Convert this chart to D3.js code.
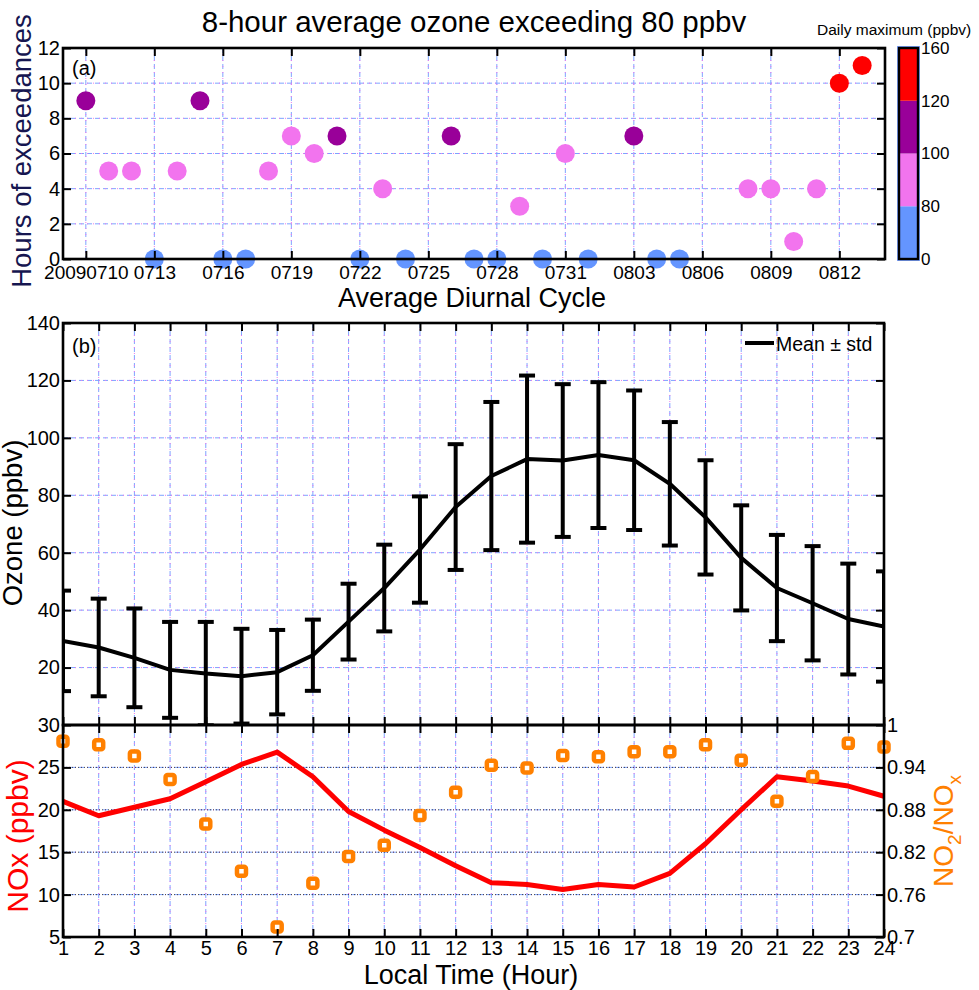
<!DOCTYPE html>
<html lang="en">
<head>
<meta charset="UTF-8">
<title>Ozone exceedances and diurnal cycle</title>
<script src="https://d3js.org/d3.v7.min.js"></script>
<style>
  body { margin: 0; background: #fff; }
  svg { font-family: "Liberation Sans", Arial, sans-serif; }
  .axis text { font-size: 19px; fill: #000; }
  .axis.big text { font-size: 20px; }
  .axis line { stroke: #000; stroke-width: 2; }
  .axis .domain { display: none; }
</style>
</head>
<body>
<svg width="979" height="990"></svg>
<script>
// ---- panel (a): hours of 8-h ozone > 80 ppbv per day
const exDates = ["2009-07-10", "2009-07-11", "2009-07-12", "2009-07-13", "2009-07-14", "2009-07-15",
  "2009-07-16", "2009-07-17", "2009-07-18", "2009-07-19", "2009-07-20", "2009-07-21", "2009-07-22",
  "2009-07-23", "2009-07-24", "2009-07-26", "2009-07-27", "2009-07-28", "2009-07-29", "2009-07-30",
  "2009-07-31", "2009-08-01", "2009-08-03", "2009-08-04", "2009-08-05", "2009-08-08", "2009-08-09",
  "2009-08-10", "2009-08-11", "2009-08-12", "2009-08-13"];
const exHours = [9, 5, 5, 0, 5, 9, 0, 0, 5, 7, 6, 7, 0, 4, 0, 7, 0, 0, 3, 0, 6, 0, 7, 0, 0, 4, 4, 1, 4, 10, 11];
// lower edge of the daily-maximum class (ppbv)
const exMaxClass = [100, 80, 80, 0, 80, 100, 0, 0, 80, 80, 80, 100, 0, 80, 0, 100, 0, 0, 80, 0, 80, 0, 100, 0, 0, 80, 80, 80, 80, 120, 120];
const dateTicks = ["2009-07-10", "2009-07-13", "2009-07-16", "2009-07-19", "2009-07-22", "2009-07-25",
  "2009-07-28", "2009-07-31", "2009-08-03", "2009-08-06", "2009-08-09", "2009-08-12"];
const classEdges = [0, 80, 100, 120, 160];
const classColors = ["#6495ff", "#f274ee", "#990099", "#ff0000"];

// ---- panel (b): average diurnal ozone
const hours = [1, 2, 3, 4, 5, 6, 7, 8, 9, 10, 11, 12, 13, 14, 15, 16, 17, 18, 19, 20, 21, 22, 23, 24];
const ozoneMean = [29.3, 27.0, 23.4, 19.2, 17.9, 17.0, 18.4, 24.3, 36.0, 47.7, 61.1, 75.9,
  86.7, 92.6, 92.1, 94.0, 92.2, 84.0, 72.3, 58.2, 47.7, 42.4, 36.9, 34.3];
const ozoneStd = [17.5, 17.0, 17.2, 16.7, 18.0, 16.5, 14.7, 12.4, 13.2, 15.1, 18.5, 21.9,
  25.8, 29.1, 26.6, 25.4, 24.3, 21.5, 19.9, 18.3, 18.5, 19.9, 19.3, 19.2];

// ---- panel (c): NOx and NO2/NOx
const noxMean = [21.0, 19.3, 20.3, 21.3, 23.3, 25.35, 26.8, 23.9, 19.8, 17.6, 15.55, 13.4,
  11.4, 11.2, 10.6, 11.2, 10.9, 12.5, 16.0, 20.0, 23.9, 23.4, 22.8, 21.6];
const no2Ratio = [0.977, 0.972, 0.956, 0.923, 0.860, 0.793, 0.714, 0.776, 0.814, 0.830, 0.872, 0.905,
  0.943, 0.939, 0.957, 0.955, 0.962, 0.962, 0.972, 0.950, 0.892, 0.927, 0.974, 0.969];

const svg = d3.select("svg");
const parse = d3.timeParse("%Y-%m-%d");

const L = 63, R = 884;
const aTop = 48, aBot = 259;
const bTop = 323, bBot = 725, cBot = 937;

function grid(g, lines, dark) {
  const sel = g.append("g");
  [["#7ea4ff", "5,3", 0], ["#ee77ee", "1,5", 6]].forEach(([c, dash, off]) => {
    sel.selectAll(null).data(lines).join("line")
      .attr("x1", d => d[0]).attr("y1", d => d[1]).attr("x2", d => d[2]).attr("y2", d => d[3])
      .attr("stroke", c).attr("stroke-width", 1).attr("stroke-dasharray", dash)
      .attr("stroke-dashoffset", off);
  });
  if (dark) {
    sel.selectAll(null).data(lines.filter(d => d[1] === d[3])).join("line")
      .attr("x1", d => d[0]).attr("y1", d => d[1]).attr("x2", d => d[2]).attr("y2", d => d[3])
      .attr("stroke", "#444").attr("stroke-width", 1).attr("stroke-dasharray", "1,2");
  }
}

function frame(x, y, w, h) {
  svg.append("rect").attr("x", x).attr("y", y).attr("width", w).attr("height", h)
    .attr("fill", "none").attr("stroke", "#000").attr("stroke-width", 2.6);
}

// ================= panel (a)
const xA = d3.scaleTime().domain([parse("2009-07-09"), parse("2009-08-14")]).range([L, 885]);
const yA = d3.scaleLinear().domain([0, 12]).range([aBot, aTop]);
const aTickDates = dateTicks.map(parse);
const yATicks = [0, 2, 4, 6, 8, 10, 12];

const gA = svg.append("g");
grid(gA, aTickDates.map(d => [xA(d), aTop, xA(d), aBot])
  .concat(yATicks.slice(1, -1).map(v => [L, yA(v), 885, yA(v)])));

const colorOf = d3.scaleOrdinal().domain(classEdges.slice(0, 4)).range(classColors);
gA.selectAll("circle").data(exDates.map((d, i) => ({ date: parse(d), h: exHours[i], c: exMaxClass[i] })))
  .join("circle")
  .attr("cx", d => xA(d.date)).attr("cy", d => yA(d.h)).attr("r", 9.5)
  .attr("fill", d => colorOf(d.c));

const fmtFirst = d3.timeFormat("%Y%m%d"), fmtRest = d3.timeFormat("%m%d");
svg.append("g").attr("class", "axis").attr("transform", `translate(0,${aBot})`)
  .call(d3.axisBottom(xA).tickValues(aTickDates).tickSize(-8).tickPadding(7)
    .tickFormat((d, i) => i === 0 ? fmtFirst(d) : fmtRest(d)));
svg.append("g").attr("class", "axis").attr("transform", `translate(0,${aTop})`)
  .call(d3.axisTop(xA).tickValues(aTickDates).tickSize(-8).tickFormat(""));
svg.append("g").attr("class", "axis big").attr("transform", `translate(${L},0)`)
  .call(d3.axisLeft(yA).tickValues(yATicks).tickSize(-8).tickPadding(3));
svg.append("g").attr("class", "axis").attr("transform", `translate(885,0)`)
  .call(d3.axisRight(yA).tickValues(yATicks).tickSize(-8).tickFormat(""));
frame(L, aTop, 885 - L, aBot - aTop);

svg.append("text").attr("x", 72).attr("y", 75).attr("font-size", 20).text("(a)");

// colorbar
const yCb = d3.scaleLinear().domain([0, 4]).range([aBot, aTop]);
const gCb = svg.append("g");
gCb.selectAll("rect").data(classColors).join("rect")
  .attr("x", 899).attr("width", 19)
  .attr("y", (d, i) => yCb(i + 1)).attr("height", (d, i) => yCb(i) - yCb(i + 1))
  .attr("fill", d => d);
gCb.append("rect").attr("x", 897.5).attr("y", aTop - 1.5).attr("width", 22).attr("height", aBot - aTop + 3)
  .attr("fill", "none").attr("stroke", "#7ea4ff").attr("stroke-width", 1);
gCb.append("rect").attr("x", 899).attr("y", aTop).attr("width", 19).attr("height", aBot - aTop)
  .attr("fill", "none").attr("stroke", "#000").attr("stroke-width", 2.4);
gCb.selectAll("text").data(classEdges).join("text")
  .attr("x", 921).attr("y", (d, i) => yCb(i)).attr("dy", "0.35em")
  .attr("font-size", 17).text(d => d);
svg.append("text").attr("x", 817).attr("y", 35).attr("font-size", 15.5).text("Daily maximum (ppbv)");

svg.append("text").attr("x", 474).attr("y", 32).attr("text-anchor", "middle").attr("font-size", 29.5)
  .text("8-hour average ozone exceeding 80 ppbv");
svg.append("text").attr("transform", "translate(31,151) rotate(-90)").attr("text-anchor", "middle")
  .attr("font-size", 27.5).attr("fill", "#161650").text("Hours of exceedances");
svg.append("text").attr("x", 472).attr("y", 307).attr("text-anchor", "middle").attr("font-size", 27)
  .text("Average Diurnal Cycle");

// ================= panel (b)
const xH = d3.scaleLinear().domain([1, 24]).range([L, R]);
const yO = d3.scaleLinear().domain([0, 140]).range([bBot, bTop]);
const yOTicks = [20, 40, 60, 80, 100, 120, 140];

const gB = svg.append("g");
grid(gB, hours.slice(1, -1).map(h => [xH(h), bTop, xH(h), bBot])
  .concat(yOTicks.slice(0, -1).map(v => [L, yO(v), R, yO(v)])));

svg.append("clipPath").attr("id", "clipB").append("rect")
  .attr("x", L).attr("y", bTop).attr("width", R - L).attr("height", bBot - bTop);
const gBd = gB.append("g").attr("clip-path", "url(#clipB)");
const ozone = hours.map((h, i) => ({ h, m: ozoneMean[i], s: ozoneStd[i] }));
const eb = gBd.selectAll("g.eb").data(ozone).join("g").attr("class", "eb");
eb.append("line").attr("x1", d => xH(d.h)).attr("x2", d => xH(d.h))
  .attr("y1", d => yO(d.m - d.s)).attr("y2", d => yO(d.m + d.s));
eb.append("line").attr("x1", d => xH(d.h) - 8).attr("x2", d => xH(d.h) + 8)
  .attr("y1", d => yO(d.m + d.s)).attr("y2", d => yO(d.m + d.s));
eb.append("line").attr("x1", d => xH(d.h) - 8).attr("x2", d => xH(d.h) + 8)
  .attr("y1", d => yO(d.m - d.s)).attr("y2", d => yO(d.m - d.s));
eb.selectAll("line").attr("stroke", "#000").attr("stroke-width", 4);
gBd.append("path").datum(ozone)
  .attr("d", d3.line().x(d => xH(d.h)).y(d => yO(d.m)))
  .attr("fill", "none").attr("stroke", "#000").attr("stroke-width", 4).attr("stroke-linejoin", "round");

svg.append("g").attr("class", "axis").attr("transform", `translate(0,${bTop})`)
  .call(d3.axisTop(xH).tickValues(hours).tickSize(-8).tickFormat(""));
svg.append("g").attr("class", "axis").attr("transform", `translate(0,${bBot})`)
  .call(d3.axisBottom(xH).tickValues(hours).tickSize(-8).tickFormat(""));
svg.append("g").attr("class", "axis big").attr("transform", `translate(${L},0)`)
  .call(d3.axisLeft(yO).tickValues(yOTicks).tickSize(-8).tickPadding(3));
svg.append("g").attr("class", "axis").attr("transform", `translate(${R},0)`)
  .call(d3.axisRight(yO).tickValues(yOTicks).tickSize(-8).tickFormat(""));
frame(L, bTop, R - L, bBot - bTop);

svg.append("text").attr("x", 72).attr("y", 353).attr("font-size", 20).text("(b)");
svg.append("line").attr("x1", 745).attr("x2", 774).attr("y1", 343).attr("y2", 343)
  .attr("stroke", "#000").attr("stroke-width", 4);
svg.append("text").attr("x", 776).attr("y", 351).attr("font-size", 19.5).text("Mean \u00b1 std");
svg.append("text").attr("transform", "translate(22,523) rotate(-90)").attr("text-anchor", "middle")
  .attr("font-size", 27.5).text("Ozone (ppbv)");

// ================= panel (c)
const yN = d3.scaleLinear().domain([5, 30]).range([cBot, bBot]);
const yR = d3.scaleLinear().domain([0.7, 1]).range([cBot, bBot]);
const yNTicks = [5, 10, 15, 20, 25, 30];
const yRTicks = [0.7, 0.76, 0.82, 0.88, 0.94, 1];

const gC = svg.append("g");
grid(gC, hours.slice(1, -1).map(h => [xH(h), bBot, xH(h), cBot])
  .concat(yNTicks.slice(1, -1).map(v => [L, yN(v), R, yN(v)])), true);

gC.append("path").datum(hours.map((h, i) => ({ h, v: noxMean[i] })))
  .attr("d", d3.line().x(d => xH(d.h)).y(d => yN(d.v)))
  .attr("fill", "none").attr("stroke", "#ff0000").attr("stroke-width", 5).attr("stroke-linejoin", "round");
gC.selectAll("rect").data(hours.map((h, i) => ({ h, v: no2Ratio[i] }))).join("rect")
  .attr("x", d => xH(d.h) - 4.5).attr("y", d => yR(d.v) - 4.5)
  .attr("width", 9).attr("height", 9).attr("rx", 2)
  .attr("fill", "#fff").attr("stroke", "#ff8000").attr("stroke-width", 4.5);

svg.append("g").attr("class", "axis").attr("transform", `translate(0,${bBot})`)
  .call(d3.axisTop(xH).tickValues(hours).tickSize(-8).tickFormat(""));
svg.append("g").attr("class", "axis big").attr("transform", `translate(0,${cBot})`)
  .call(d3.axisBottom(xH).tickValues(hours).tickSize(-8).tickPadding(4));
svg.append("g").attr("class", "axis big").attr("transform", `translate(${L},0)`)
  .call(d3.axisLeft(yN).tickValues(yNTicks).tickSize(-8).tickPadding(3));
svg.append("g").attr("class", "axis big").attr("transform", `translate(${R},0)`)
  .call(d3.axisRight(yR).tickValues(yRTicks).tickSize(-8).tickPadding(3).tickFormat(d => String(+d.toFixed(2))));
frame(L, bBot, R - L, cBot - bBot);

svg.append("text").attr("transform", "translate(28,836) rotate(-90)").attr("text-anchor", "middle")
  .attr("font-size", 30).attr("fill", "#ff0000").text("NOx (ppbv)");
const rl = svg.append("text").attr("transform", "translate(953,831) rotate(-90)").attr("text-anchor", "middle")
  .attr("font-size", 28).attr("fill", "#ff8000");
rl.append("tspan").text("NO");
rl.append("tspan").attr("font-size", 19).attr("dy", 8).text("2");
rl.append("tspan").attr("dy", -8).text("/NO");
rl.append("tspan").attr("font-size", 19).attr("dy", 8).text("x");
svg.append("text").attr("x", 471).attr("y", 984).attr("text-anchor", "middle").attr("font-size", 27)
  .text("Local Time (Hour)");
</script>
</body>
</html>
